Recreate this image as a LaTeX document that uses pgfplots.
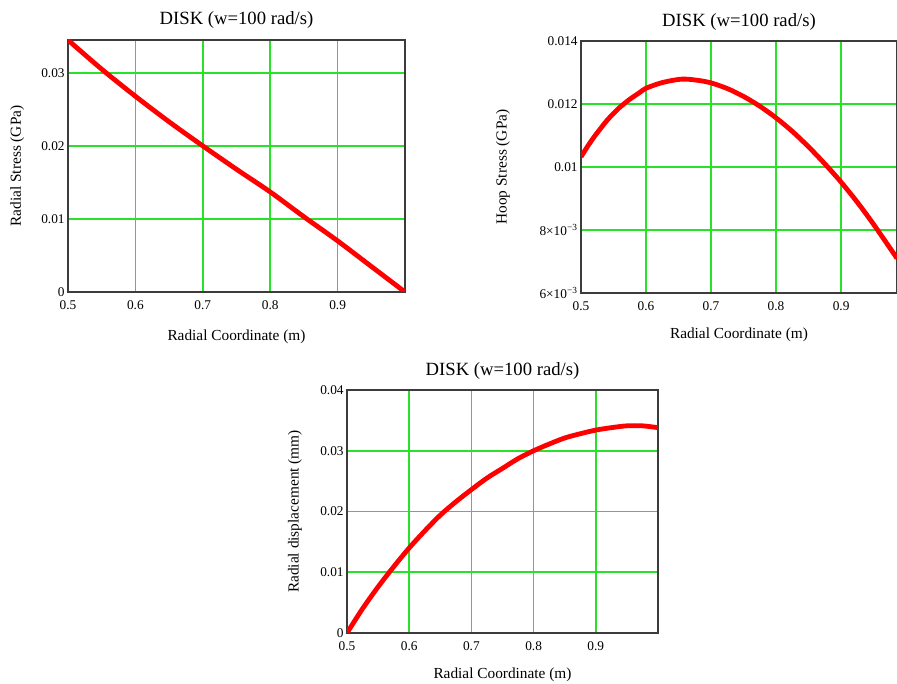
\documentclass[border=0pt]{standalone}
\usepackage{fontspec}
\setmainfont{Liberation Serif}
\usepackage{pgfplots}
\pgfplotsset{compat=1.18}
\definecolor{gridgreen}{RGB}{40,225,40}
\definecolor{boxgray}{RGB}{60,60,60}

\tikzset{
  lbl/.style={font=\fontsize{11.5}{13}\selectfont},
  ttl/.style={font=\fontsize{14}{16}\selectfont},
}
\pgfplotsset{
  disk/.style={
    scale only axis,
    anchor=south west,
    axis line style={boxgray, line width=1.1pt},
    grid=major,
    major grid style={gridgreen, line width=1.3pt},
    major tick length=0pt,
    scaled ticks=false,
    tick label style={font=\fontsize{10}{11}\selectfont},
    xticklabel style={yshift=-3pt},
    yticklabel style={xshift=1pt},
    xtick={0.5,0.6,0.7,0.8,0.9},
    xticklabels={0.5,0.6,0.7,0.8,0.9},
    xlabel={Radial Coordinate (m)},
    title={DISK (w=100 rad/s)},
  },
  redline/.style={red, line width=3.6pt, smooth, no markers},
}

\begin{document}
\begin{tikzpicture}
\path[use as bounding box] (0,0) rectangle (672.75pt,513pt);

% radial stress
\begin{axis}[disk,
  at={(51pt,294pt)}, width=252.75pt, height=189pt,
  xmin=0.5, xmax=1.0, ymin=0, ymax=0.0345,
  ytick={0,0.01,0.02,0.03}, yticklabels={0,0.01,0.02,0.03},
  ylabel={Radial Stress (GPa)},
  every axis y label/.style={at={(axis description cs:-0.151,0.5)}, rotate=90, anchor=center, lbl},
  every axis x label/.style={at={(axis description cs:0.5,-0.179)}, anchor=center, lbl},
  every axis title/.style={at={(axis description cs:0.5,1.08)}, anchor=center, ttl},
]
\addplot[redline] coordinates {
  (0.50,0.0345) (0.55,0.0305) (0.60,0.0268) (0.65,0.0233) (0.70,0.0200)
  (0.75,0.0168) (0.80,0.0137) (0.85,0.0103) (0.90,0.0070) (0.95,0.0035) (1.00,0.0000)
};
\end{axis}

% hoop stress
\begin{axis}[disk,
  at={(435.75pt,293.25pt)}, width=237pt, height=189pt,
  xmin=0.5, xmax=0.986, ymin=0.006, ymax=0.014,
  ytick={0.006,0.008,0.01,0.012,0.014},
  yticklabels={6×10\textsuperscript{−3},8×10\textsuperscript{−3},0.01,0.012,0.014},
  ylabel={Hoop Stress (GPa)},
  every axis y label/.style={at={(axis description cs:-0.247,0.5)}, rotate=90, anchor=center, lbl},
  every axis x label/.style={at={(axis description cs:0.5,-0.167)}, anchor=center, lbl},
  every axis title/.style={at={(axis description cs:0.5,1.075)}, anchor=center, ttl},
]
\addplot[redline] coordinates {
  (0.50,0.01032) (0.51,0.01065) (0.52,0.01095) (0.53,0.01122) (0.54,0.01148)
  (0.55,0.01170) (0.56,0.01190) (0.575,0.01215) (0.59,0.01236) (0.60,0.01250)
  (0.625,0.01268) (0.655,0.01279) (0.68,0.01275) (0.70,0.01267) (0.725,0.01249)
  (0.75,0.01224) (0.775,0.01193) (0.80,0.01156) (0.825,0.01113) (0.85,0.01064)
  (0.875,0.01010) (0.90,0.00952) (0.925,0.00888) (0.95,0.00818) (0.986,0.00710)
};
\end{axis}

% radial displacement
\begin{axis}[disk,
  at={(260.25pt,38.25pt)}, width=233.25pt, height=182.25pt,
  xmin=0.5, xmax=1.0, ymin=0, ymax=0.04,
  ytick={0,0.01,0.02,0.03,0.04}, yticklabels={0,0.01,0.02,0.03,0.04},
  ylabel={Radial displacement (mm)},
  every axis y label/.style={at={(axis description cs:-0.167,0.5)}, rotate=90, anchor=center, lbl},
  every axis x label/.style={at={(axis description cs:0.5,-0.173)}, anchor=center, lbl},
  every axis title/.style={at={(axis description cs:0.5,1.08)}, anchor=center, ttl},
]
\addplot[redline] coordinates {
  (0.50,0.0000) (0.525,0.0040) (0.55,0.0076) (0.575,0.0109) (0.60,0.0140)
  (0.625,0.0168) (0.65,0.0194) (0.675,0.0216) (0.70,0.0236) (0.725,0.0255)
  (0.75,0.0271) (0.775,0.0287) (0.80,0.0300) (0.825,0.0311) (0.85,0.0321)
  (0.875,0.0328) (0.90,0.0334) (0.925,0.0338) (0.95,0.0341) (0.975,0.0341) (1.00,0.0338)
};
\end{axis}
\end{tikzpicture}
\end{document}
